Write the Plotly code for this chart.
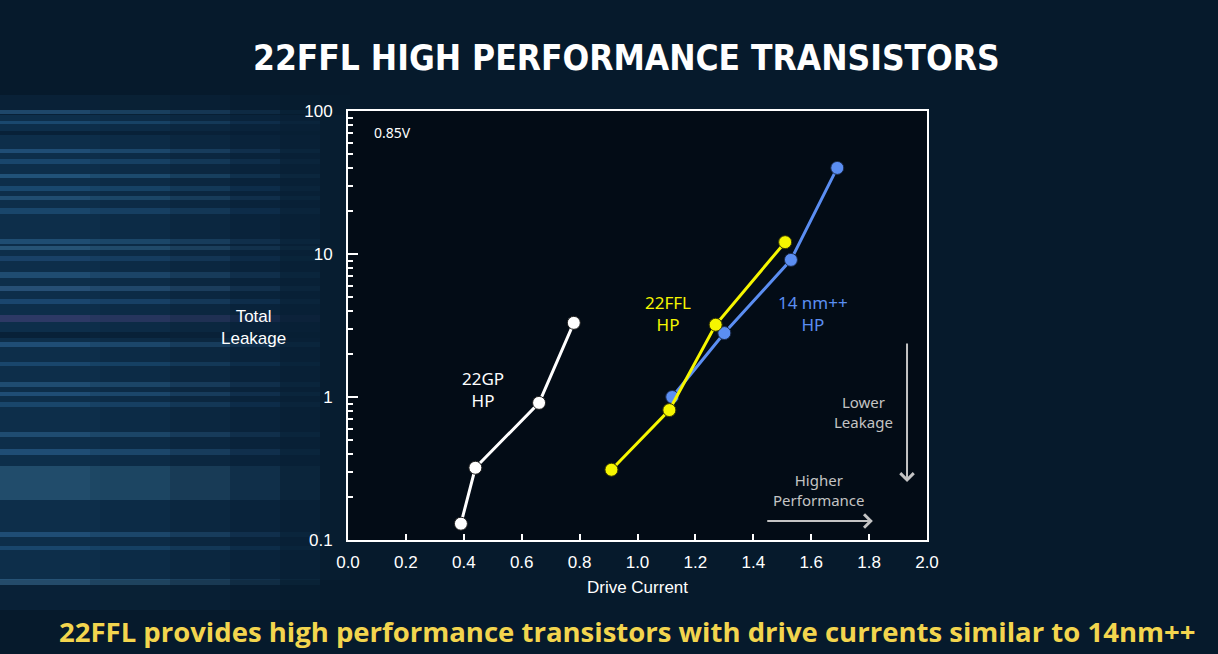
import math
import plotly.graph_objects as go

# ---- data ----
gp_x = [0.39, 0.44, 0.66, 0.78]
gp_y = [0.13, 0.32, 0.91, 3.3]
ffl_x = [0.91, 1.11, 1.27, 1.51]
ffl_y = [0.31, 0.81, 3.2, 12.1]
nm14_x = [1.12, 1.30, 1.53, 1.69]
nm14_y = [1.0, 2.8, 9.1, 40.0]
x_ticks = [0.0, 0.2, 0.4, 0.6, 0.8, 1.0, 1.2, 1.4, 1.6, 1.8, 2.0]
y_ticks = [0.1, 1, 10, 100]
y_ticktext = ["0.1", "1", "10", "100"]
y_minor = [m * d for d in (0.1, 1, 10) for m in range(2, 10)]

WHITE = "#ffffff"
YELLOW = "#f6f600"
BLUE = "#5b8ef2"
GREY = "#c4c4c4"
TXT = "Liberation Sans"
LBL = "Noto Sans"

# plot-area geometry in pixels (for decoration placement)
L, R, T, B = 348, 927, 111, 540
def px(xp):
    return (xp - L) / (R - L)
def py(yp):
    return (B - yp) / (B - T)

fig = go.Figure()
fig.add_trace(go.Scatter(x=gp_x, y=gp_y, mode="lines+markers",
                         line=dict(color=WHITE, width=3),
                         marker=dict(color=WHITE, size=13, line=dict(color="#222222", width=1))))
fig.add_trace(go.Scatter(x=nm14_x, y=nm14_y, mode="lines+markers",
                         line=dict(color=BLUE, width=3),
                         marker=dict(color=BLUE, size=13, line=dict(color="#1a2a4a", width=1))))
fig.add_trace(go.Scatter(x=ffl_x, y=ffl_y, mode="lines+markers",
                         line=dict(color=YELLOW, width=3),
                         marker=dict(color=YELLOW, size=13, line=dict(color="#3a3a00", width=1))))
# invisible trace to carry minor-tick axis
fig.add_trace(go.Scatter(x=[0], y=[1], yaxis="y2", mode="markers",
                         marker=dict(opacity=0), hoverinfo="skip"))

# ---- background decoration ----
shapes = []
# bluish glow on the left
for (x0, x1, op) in [(0, 100, 0.4), (100, 170, 0.34), (170, 230, 0.27), (230, 280, 0.2),
                     (280, 320, 0.13), (320, 350, 0.06)]:
    for (y0, y1, k) in [(95, 115, 0.4), (115, 580, 1.0), (580, 610, 0.4)]:
        shapes.append(dict(type="rect", xref="paper", yref="paper", x0=px(x0), x1=px(x1),
                           y0=py(y1), y1=py(y0), fillcolor="#1a4d78", opacity=op * k,
                           line=dict(width=0), layer="below"))
streaks = [
    (110, 4, "#3b7bb0"), (121, 3, "#2e6ea0"), (131, 4, "#03101e"), (149, 4, "#3a7ab0"),
    (159, 5, "#2c6a9c"), (174, 4, "#3d86b8"), (186, 5, "#2b6ea0"), (196, 4, "#3b7aa8"),
    (208, 6, "#2b6898"), (239, 5, "#3a7aaa"), (246, 4, "#4a88b0"), (256, 5, "#2a5e90"),
    (272, 6, "#3a76a8"), (286, 5, "#4a7fb0"), (299, 5, "#2e6aa0"), (315, 7, "#5a4a8a"),
    (332, 6, "#03101e"), (342, 5, "#3a7ab0"), (362, 4, "#2a6a9a"), (382, 5, "#3a78a8"),
    (392, 4, "#3a7ab0"), (402, 5, "#2b6898"), (432, 5, "#3a78a8"), (449, 6, "#3a7ab0"),
    (466, 34, "#3f7898"), (532, 5, "#3a7ab0"), (546, 4, "#2a6a9a"), (579, 6, "#4a86b0"),
]
fade = [(0, 90, 0.42), (90, 170, 0.34), (170, 230, 0.25), (230, 280, 0.15), (280, 320, 0.06)]
for (yt, h, c) in streaks:
    for (x0, x1, op) in fade:
        shapes.append(dict(type="rect", xref="paper", yref="paper", x0=px(x0), x1=px(x1),
                           y0=py(yt + h), y1=py(yt), fillcolor=c, opacity=op,
                           line=dict(width=0), layer="below"))

ann = []
def A(text, x, y, color, size, family=LBL):
    ann.append(dict(text=text, x=x, y=math.log10(y), xref="x", yref="y", showarrow=False,
                    xanchor="center", yanchor="middle",
                    font=dict(color=color, size=size, family=family)))

A("0.85V", 0.152, 10 ** 1.853, WHITE, 14)
A("22GP<br>HP", 0.467, 10 ** 0.049, WHITE, 17)
A("22FFL<br>HP", 1.107, 10 ** 0.587, YELLOW, 17)
A("14 nm++<br>HP", 1.606, 10 ** 0.587, BLUE, 17)
A("Lower<br>Leakage", 1.782, 10 ** -0.105, GREY, 15)
A("Higher<br>Performance", 1.626, 10 ** -0.65, GREY, 15)

# direction arrows
ann.append(dict(x=1.931, y=-0.594, ax=1.931, ay=0.385, xref="x", yref="y",
                axref="x", ayref="y", showarrow=True, arrowhead=4, arrowsize=1.3,
                arrowwidth=2, arrowcolor=GREY, text=""))
ann.append(dict(x=1.813, y=-0.867, ax=1.443, ay=-0.867, xref="x", yref="y",
                axref="x", ayref="y", showarrow=True, arrowhead=4, arrowsize=1.3,
                arrowwidth=2, arrowcolor=GREY, text=""))

# title, caption, y-axis title
ann.append(dict(text="<b>22FFL HIGH PERFORMANCE TRANSISTORS</b>", xref="paper", yref="paper",
                x=px(626), y=py(58), showarrow=False, xanchor="center", yanchor="middle",
                font=dict(family="DejaVu Sans Condensed", size=35, color=WHITE)))
ann.append(dict(text="<b>22FFL provides high performance transistors with drive currents similar to 14nm++</b>",
                xref="paper", yref="paper", x=px(627), y=py(631),
                showarrow=False, xanchor="center", yanchor="middle",
                font=dict(family="Open Sans", size=27.5, color="#f3d54e")))
ann.append(dict(text="Total<br>Leakage", xref="paper", yref="paper",
                x=px(253), y=py(327), showarrow=False, xanchor="center", yanchor="middle",
                font=dict(family=TXT, size=17, color=WHITE)))

fig.update_layout(
    width=1218, height=654,
    margin=dict(l=L, r=1218 - R, t=T, b=654 - B),
    paper_bgcolor="#061a2c",
    plot_bgcolor="#030c16",
    showlegend=False,
    shapes=shapes,
    annotations=ann,
    xaxis=dict(range=[0, 2], tickvals=x_ticks, tickformat=".1f", ticks="inside", ticklen=6,
               tickwidth=2, tickcolor=WHITE, showline=True, linecolor=WHITE, linewidth=2,
               mirror=True, showgrid=False, zeroline=False,
               tickfont=dict(family=TXT, size=17, color=WHITE),
               title=dict(text="Drive Current", font=dict(family=TXT, size=17, color=WHITE),
                          standoff=10),
               ticklabelstandoff=6),
    yaxis=dict(type="log", range=[-1, 2], tickvals=y_ticks, ticktext=y_ticktext,
               ticks="inside", ticklen=10, tickwidth=2, tickcolor=WHITE,
               showline=True, linecolor=WHITE, linewidth=2, mirror=True,
               showgrid=False, zeroline=False,
               tickfont=dict(family=TXT, size=17, color=WHITE),
               ticklabelstandoff=10),
    yaxis2=dict(type="log", range=[-1, 2], overlaying="y", side="left",
                tickvals=y_minor, showticklabels=False, ticks="inside", ticklen=5,
                tickwidth=2, tickcolor=WHITE, showgrid=False, zeroline=False,
                showline=False),
)

fig.write_html("out.html", config={"displayModeBar": False},
               post_script="document.body.style.margin='0';document.body.style.overflow='hidden';")
